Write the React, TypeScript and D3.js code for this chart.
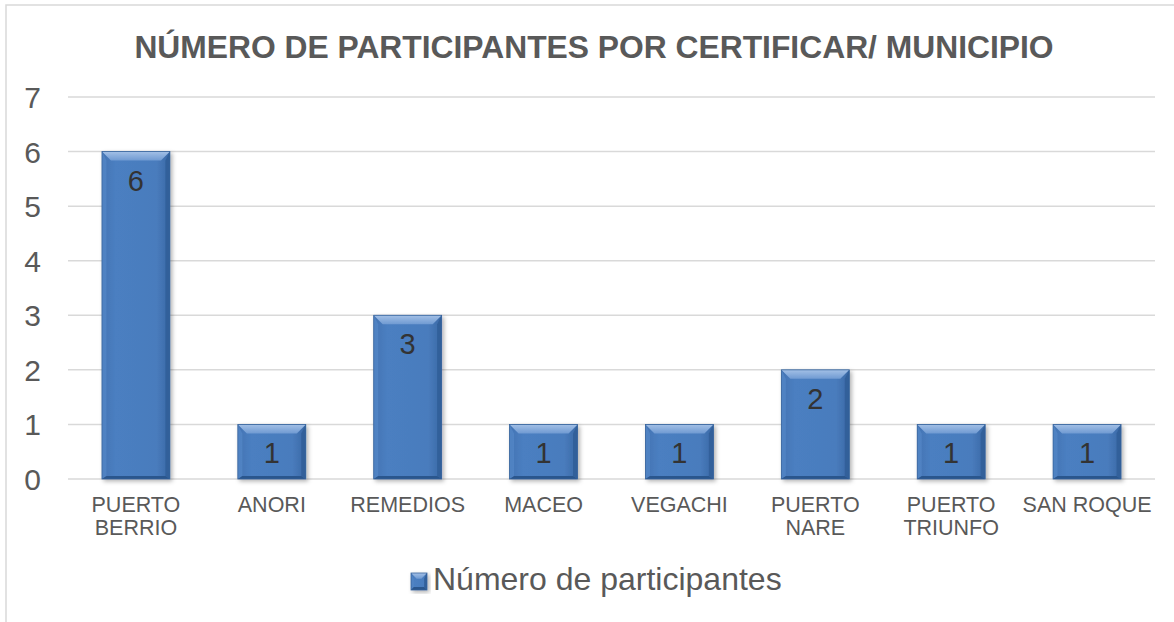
import React from "react";
import * as d3 from "d3";

const municipios = ["PUERTO BERRIO", "ANORI", "REMEDIOS", "MACEO", "VEGACHI", "PUERTO NARE", "PUERTO TRIUNFO", "SAN ROQUE"];
const participantes = [6, 1, 3, 1, 1, 2, 1, 1];
const yTicks = [0, 1, 2, 3, 4, 5, 6, 7];
const titulo = "NÚMERO DE PARTICIPANTES POR CERTIFICAR/ MUNICIPIO";
const serie = "Número de participantes";

const W = 1174;
const H = 622;
const font = "'Liberation Sans', Arial, sans-serif";
const grey = "#595959";

// split long labels onto two lines like the original
const wrap = (s: string) => {
  const parts = s.split(" ");
  if (parts.length === 2 && s !== "SAN ROQUE") return parts;
  return [s];
};

const Bar = ({ x0, y0, w, h }: { x0: number; y0: number; w: number; h: number }) => {
  const b = Math.min(9, h / 3);
  const x1 = x0 + w;
  const y1 = y0 + h;
  return (
    <g filter="url(#sh)">
      <rect x={x0} y={y0} width={w} height={h} fill="url(#body)" />
      <polygon points={`${x0},${y0} ${x1},${y0} ${x1 - b},${y0 + b} ${x0 + b},${y0 + b}`} fill="url(#topb)" />
      <polygon points={`${x0},${y0} ${x0 + b * 0.5},${y0 + b} ${x0 + b * 0.5},${y1 - 3} ${x0},${y1}`} fill="#5486c6" opacity={0.8} />
      <polygon points={`${x1},${y0} ${x1 - b * 0.5},${y0 + b} ${x1 - b * 0.5},${y1 - 3} ${x1},${y1}`} fill="#2f5e98" opacity={0.85} />
      <polygon points={`${x0},${y1} ${x0 + b * 0.5},${y1 - 3} ${x1 - b * 0.5},${y1 - 3} ${x1},${y1}`} fill="#2b568d" />
      <rect x={x0} y={y0} width={w} height={h} fill="none" stroke="#36639c" strokeWidth={0.8} />
    </g>
  );
};

export default function App() {
  const x = d3.scaleBand<string>().domain(municipios).range([68, 1155]).paddingInner(0.5).paddingOuter(0.25);
  const y = d3.scaleLinear().domain([0, 7]).range([479, 97]);

  return (
    <svg width={W} height={H} style={{ position: "absolute", left: 0, top: 0, background: "#fff" }} fontFamily={font}>
      <defs>
        <linearGradient id="body" x1="0" x2="1" y1="0" y2="0">
          <stop offset="0" stopColor="#4273b3" />
          <stop offset="0.2" stopColor="#4b7fc1" />
          <stop offset="0.8" stopColor="#497cbd" />
          <stop offset="1" stopColor="#3a68a5" />
        </linearGradient>
        <linearGradient id="topb" x1="0" x2="0" y1="0" y2="1">
          <stop offset="0" stopColor="#a3c0e6" />
          <stop offset="1" stopColor="#6f9ad2" />
        </linearGradient>
        <filter id="sh" x="-20%" y="-20%" width="140%" height="140%">
          <feDropShadow dx="2" dy="2" stdDeviation="2" floodColor="#000" floodOpacity="0.3" />
        </filter>
      </defs>

      <rect x={6} y={5} width={W + 10} height={H + 10} fill="#fff" stroke="#d9d9d9" strokeWidth={1.5} />

      <text x={594} y={58} textAnchor="middle" fontSize={31.8} fontWeight="bold" fill={grey}>
        {titulo}
      </text>

      {yTicks.map((t) => (
        <g key={t}>
          <line x1={68} x2={1155} y1={y(t)} y2={y(t)} stroke="#d9d9d9" strokeWidth={1.5} />
          <text x={41} y={y(t) + 11} textAnchor="end" fontSize={30} fill={grey}>
            {t}
          </text>
        </g>
      ))}

      {municipios.map((m, i) => {
        const x0 = x(m)!;
        const v = participantes[i];
        const cx = x0 + x.bandwidth() / 2;
        return (
          <g key={m}>
            <Bar x0={x0} y0={y(v)} w={x.bandwidth()} h={y(0) - y(v)} />
            <text x={cx} y={y(v) + 39} textAnchor="middle" fontSize={29} fill="#333">
              {v}
            </text>
            {wrap(m).map((line, j) => (
              <text key={j} x={cx} y={512 + j * 23} textAnchor="middle" fontSize={21.5} fill={grey}>
                {line}
              </text>
            ))}
          </g>
        );
      })}

      <g>
        <Bar x0={411} y0={573} w={16} h={17} />
        <text x={433} y={590} fontSize={32} fill={grey}>
          {serie}
        </text>
      </g>
    </svg>
  );
}
